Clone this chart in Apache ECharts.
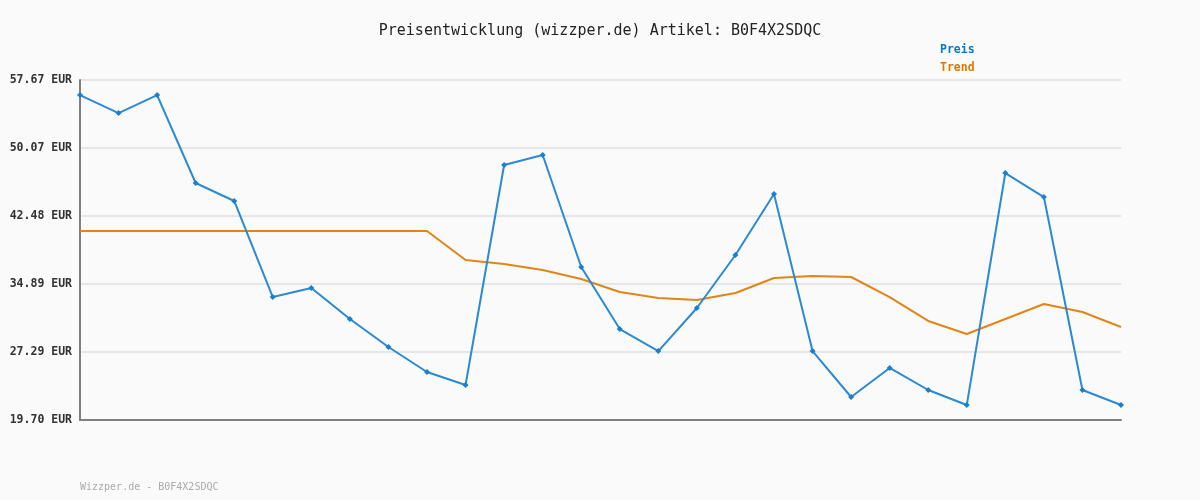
<!DOCTYPE html>
<html>
<head>
<meta charset="utf-8">
<script src="https://cdn.jsdelivr.net/npm/echarts@6/dist/echarts.min.js"></script>
<style>
html,body{margin:0;padding:0;background:#fafafa;}
#chart{width:1200px;height:500px;}
</style>
</head>
<body>
<div id="chart"></div>
<script>
var categories = ['1','2','3','4','5','6','7','8','9','10','11','12','13','14','15','16','17','18','19','20','21','22','23','24','25','26','27','28'];
var preis = [55.99, 53.98, 55.99, 46.17, 44.16, 33.43, 34.44, 30.98, 27.85, 25.06, 23.61, 48.18, 49.29, 36.79, 29.86, 27.40, 32.21, 38.13, 44.94, 27.40, 22.27, 25.51, 23.05, 21.37, 47.28, 44.60, 23.05, 21.37];
var trend = [40.81, 40.81, 40.81, 40.81, 40.81, 40.81, 40.81, 40.81, 40.81, 40.81, 37.57, 37.12, 36.45, 35.45, 34.00, 33.32, 33.10, 33.88, 35.56, 35.78, 35.67, 33.43, 30.76, 29.30, 30.98, 32.65, 31.76, 30.09];
var tickLabels = ['19.70 EUR', '27.29 EUR', '34.89 EUR', '42.48 EUR', '50.07 EUR', '57.67 EUR'];
var yMin = 19.70, yMax = 57.67;

var mono = '"DejaVu Sans Mono", monospace';
var chart = echarts.init(document.getElementById('chart'));
chart.setOption({
  backgroundColor: '#fafafa',
  animation: false,
  title: {
    text: 'Preisentwicklung (wizzper.de) Artikel: B0F4X2SDQC',
    left: 'center', top: 19,
    textStyle: { fontFamily: mono, fontSize: 15, fontWeight: 'normal', color: '#222' }
  },
  graphic: [{
    type: 'text', left: 80, top: 482,
    style: { text: 'Wizzper.de - B0F4X2SDQC', fontFamily: mono, fontSize: 10, fill: '#aaaaaa' }
  }],
  legend: {
    orient: 'vertical', left: 930, top: 39, itemGap: 6,
    icon: 'none', itemWidth: 0, itemHeight: 0,
    selectedMode: false,
    textStyle: { fontFamily: mono, fontSize: 11.5, fontWeight: 'bold' },
    data: [
      { name: 'Preis', textStyle: { color: '#0a78c8' } },
      { name: 'Trend', textStyle: { color: '#e07800' } }
    ]
  },
  grid: { left: 80, right: 79, top: 80, bottom: 80 },
  xAxis: {
    type: 'category', data: categories, boundaryGap: false,
    axisLine: { lineStyle: { color: '#808080', width: 2 } },
    axisTick: { show: false }, axisLabel: { show: false }, splitLine: { show: false }
  },
  yAxis: [{
    type: 'value', min: yMin, max: yMax,
    axisLine: { show: false }, axisTick: { show: false },
    axisLabel: { show: false }, splitLine: { show: false }
  }, {
    type: 'category', data: tickLabels, boundaryGap: false, position: 'left',
    axisLine: { show: true, lineStyle: { color: '#808080', width: 2 } },
    axisTick: { show: false },
    axisLabel: { fontFamily: mono, fontSize: 11.5, fontWeight: 'bold', color: '#333', margin: 8 },
    splitLine: { show: true, lineStyle: { color: '#e6e6e6', width: 2 } }
  }],
  series: [{
    name: 'Preis', type: 'line', yAxisIndex: 0, data: preis,
    symbol: 'diamond', symbolSize: 6, showSymbol: true,
    itemStyle: { color: '#1a7fcc' },
    lineStyle: { color: '#2a8ad4', width: 2 }, z: 3
  }, {
    name: 'Trend', type: 'line', yAxisIndex: 0, data: trend,
    symbol: 'none',
    itemStyle: { color: '#e07800' },
    lineStyle: { color: '#e08516', width: 2 }, z: 2
  }]
});
</script>
</body>
</html>
